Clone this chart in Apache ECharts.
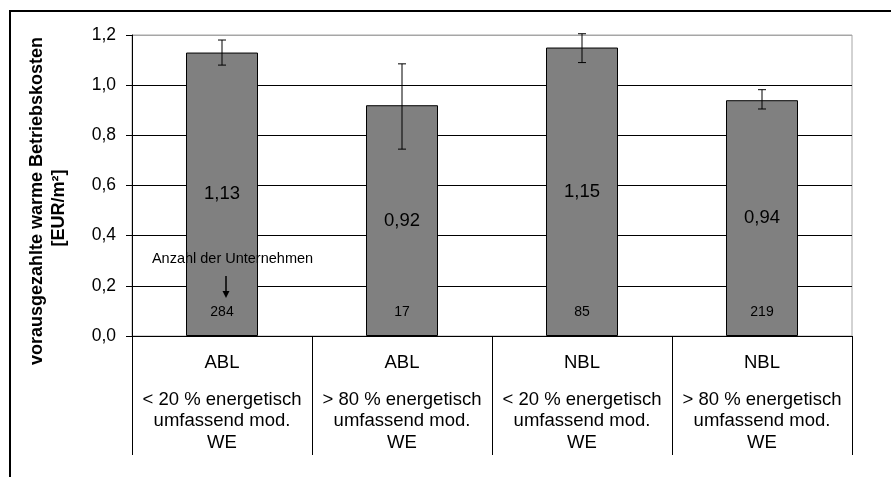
<!DOCTYPE html>
<html>
<head>
<meta charset="utf-8">
<script src="https://cdn.jsdelivr.net/npm/echarts@6/dist/echarts.min.js"></script>
<style>
html,body{margin:0;padding:0;background:#fff;}
#chart{width:891px;height:477px;}
</style>
</head>
<body>
<div id="chart"></div>
<script>
const regions = ['ABL', 'ABL', 'NBL', 'NBL'];
const groupLines = [
  ['< 20 % energetisch', 'umfassend mod.', 'WE'],
  ['> 80 % energetisch', 'umfassend mod.', 'WE'],
  ['< 20 % energetisch', 'umfassend mod.', 'WE'],
  ['> 80 % energetisch', 'umfassend mod.', 'WE']
];
const values = [1.13, 0.92, 1.15, 0.94];
const errLow = [1.08, 0.745, 1.09, 0.905];
const errHigh = [1.18, 1.085, 1.205, 0.982];
const counts = [284, 17, 85, 219];
const yTicks = [0, 0.2, 0.4, 0.6, 0.8, 1.0, 1.2];
const yTitle = ['vorausgezahlte warme Betriebskosten', '[EUR/m²]'];
const annotation = 'Anzahl der Unternehmen';

const FONT = '"Liberation Sans", Arial, sans-serif';
const fmt = v => v.toFixed(2).replace('.', ',');

const chart = echarts.init(document.getElementById('chart'));
chart.setOption({
  animation: false,
  backgroundColor: '#fff',
  textStyle: { fontFamily: FONT, color: '#000' },
  grid: { left: 132, top: 35, right: 39, bottom: 141, show: true, borderColor: '#a6a6a6', borderWidth: 1, backgroundColor: 'transparent' },
  xAxis: {
    type: 'category',
    data: regions,
    boundaryGap: true,
    axisLine: { show: true, lineStyle: { color: '#000', width: 1 } },
    axisTick: { show: true, interval: 0, length: 119, lineStyle: { color: '#000', width: 1 } },
    axisLabel: {
      interval: 0,
      margin: 1,
      fontFamily: FONT,
      color: '#000',
      formatter: (v, i) => '{a|' + regions[i] + '}\n' + groupLines[i].map(s => '{b|' + s + '}').join('\n'),
      rich: {
        a: { fontSize: 18.5, lineHeight: 52, fontFamily: FONT, color: '#000' },
        b: { fontSize: 18.5, lineHeight: 21.5, fontFamily: FONT, color: '#000' }
      }
    },
    splitLine: { show: false }
  },
  yAxis: {
    type: 'value',
    min: yTicks[0],
    max: yTicks[yTicks.length - 1],
    interval: 0.2,
    axisLine: { show: true, lineStyle: { color: '#000', width: 1 } },
    axisTick: { show: true, length: 6, lineStyle: { color: '#000' } },
    axisLabel: { fontSize: 17.5, margin: 16, color: '#000', fontFamily: FONT, formatter: v => v.toFixed(1).replace('.', ',') },
    splitLine: { show: true, lineStyle: { color: ['#000', '#000', '#000', '#000', '#000', '#000', '#a6a6a6'], width: 1 } }
  },
  graphic: [
    { type: 'rect', shape: { x: 10, y: 11, width: 900, height: 500 }, style: { fill: 'none', stroke: '#000', lineWidth: 2 }, silent: true },
    { type: 'text', x: 37, y: 201, rotation: Math.PI / 2, style: { text: yTitle[0], font: 'bold 18px ' + FONT, fill: '#000', align: 'center', verticalAlign: 'middle' } },
    { type: 'text', x: 59, y: 208, rotation: Math.PI / 2, style: { text: yTitle[1], font: 'bold 18px ' + FONT, fill: '#000', align: 'center', verticalAlign: 'middle' } }
  ],
  series: [
    {
      type: 'bar',
      data: values,
      barWidth: '40%',
      itemStyle: { color: '#808080', borderColor: '#000', borderWidth: 1 },
      label: { show: true, position: 'inside', formatter: p => fmt(p.value), fontSize: 18.5, color: '#000', fontFamily: FONT },
      z: 2
    },
    {
      type: 'custom',
      clip: false,
      z: 5,
      data: values.map((v, i) => [i, errLow[i], errHigh[i], counts[i]]),
      renderItem: (params, api) => {
        const i = api.value(0);
        const lo = api.coord([i, api.value(1)]);
        const hi = api.coord([i, api.value(2)]);
        const base = api.coord([i, 0]);
        const cap = 4;
        const ls = { stroke: '#000', lineWidth: 1 };
        const children = [
          { type: 'line', shape: { x1: hi[0], y1: hi[1], x2: lo[0], y2: lo[1] }, style: ls },
          { type: 'line', shape: { x1: hi[0] - cap, y1: hi[1], x2: hi[0] + cap, y2: hi[1] }, style: ls },
          { type: 'line', shape: { x1: lo[0] - cap, y1: lo[1], x2: lo[0] + cap, y2: lo[1] }, style: ls },
          { type: 'text', x: base[0], y: base[1] - 24, style: { text: String(api.value(3)), font: '14px ' + FONT, fill: '#000', align: 'center', verticalAlign: 'middle' } }
        ];
        if (i === 0) {
          children.push(
            { type: 'text', x: base[0] + 10.5, y: base[1] - 77, style: { text: annotation, font: '14.5px ' + FONT, fill: '#000', align: 'center', verticalAlign: 'middle' } },
            { type: 'line', shape: { x1: base[0] + 4, y1: base[1] - 60, x2: base[0] + 4, y2: base[1] - 43 }, style: { stroke: '#000', lineWidth: 1.5 } },
            { type: 'polygon', shape: { points: [[base[0] + 0.5, base[1] - 45], [base[0] + 7.5, base[1] - 45], [base[0] + 4, base[1] - 38]] }, style: { fill: '#000' } }
          );
        }
        return { type: 'group', children: children };
      }
    }
  ]
});
</script>
</body>
</html>
